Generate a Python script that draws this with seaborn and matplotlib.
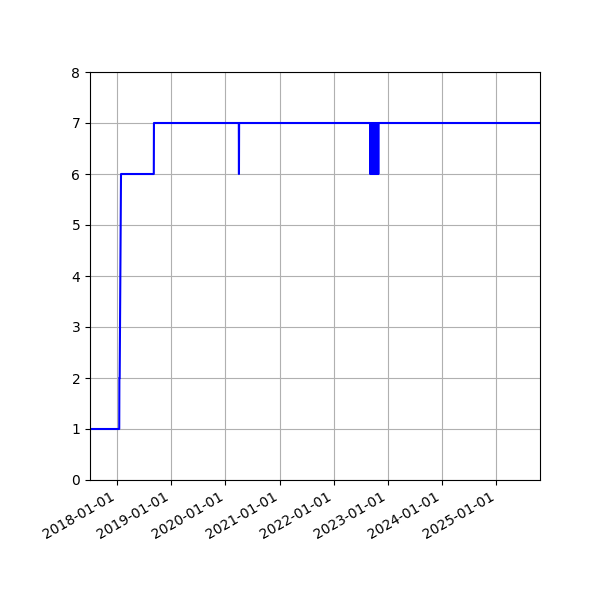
import pandas as pd
import seaborn as sns
import matplotlib
matplotlib.use('Agg')
import matplotlib.pyplot as plt
import matplotlib.dates as mdates

# Level changes (value held between consecutive points)
level_dates = ['2017-07-03', '2018-01-16', '2018-01-17', '2018-01-19',
               '2018-01-28', '2018-09-06', '2018-09-07', '2025-10-22']
level_values = [1, 1, 2, 2, 6, 6, 7, 7]

# Single-day drops from 7 down to 6
dip_dates = ['2020-04-02',
             '2022-09-04', '2022-09-07', '2022-09-10', '2022-09-13',
             '2022-09-16', '2022-09-19', '2022-09-22', '2022-09-25',
             '2022-09-28', '2022-10-01', '2022-10-04', '2022-10-07',
             '2022-10-10', '2022-10-13', '2022-10-16', '2022-10-19',
             '2022-10-22', '2022-10-25', '2022-10-28']
dip_value = 6
base_value = 7

# Build the series
rows = list(zip(pd.to_datetime(level_dates), level_values))
one_day = pd.Timedelta(days=1)
for d in pd.to_datetime(dip_dates):
    rows += [(d - one_day, base_value), (d, dip_value), (d + one_day, base_value)]
df = pd.DataFrame(rows, columns=['date', 'value'])
df = df.drop_duplicates('date', keep='last').sort_values('date')

fig, ax = plt.subplots(figsize=(6, 6), dpi=100)

sns.lineplot(data=df, x='date', y='value', color='blue', linewidth=1.5,
             estimator=None, ax=ax)

ax.set_xlim(df['date'].min(), df['date'].max())
ax.set_ylim(0, 8)
ax.set_xlabel('')
ax.set_ylabel('')
ax.xaxis.set_major_locator(mdates.YearLocator())
ax.xaxis.set_major_formatter(mdates.DateFormatter('%Y-%m-%d'))
ax.grid(True)

fig.autofmt_xdate()
fig.subplots_adjust(left=0.15, right=0.9, top=0.88, bottom=0.2)

fig.savefig('out.png', dpi=100)
